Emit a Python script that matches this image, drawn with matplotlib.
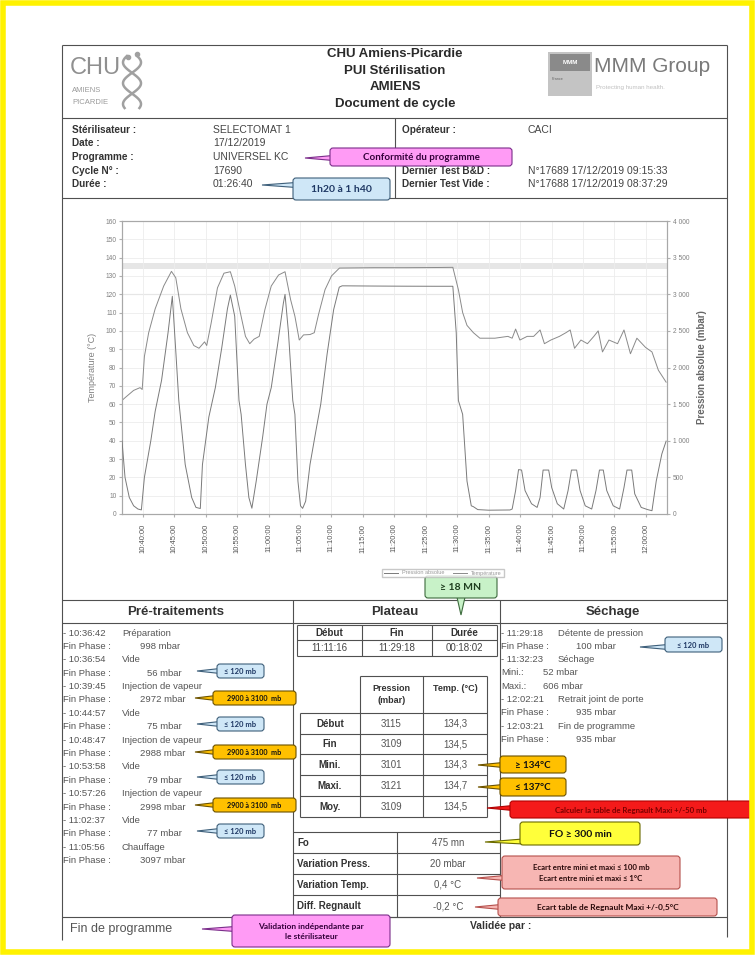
"""
Document de cycle du stérilisateur SELECTOMAT 1 (CHU Amiens-Picardie),
avec les annotations de contrôle.
"""
import numpy as np
import pandas as pd
import matplotlib
matplotlib.use("Agg")
import matplotlib.pyplot as plt
import matplotlib.dates as mdates
from matplotlib.patches import FancyBboxPatch, Polygon, Rectangle
from matplotlib.ticker import FuncFormatter, MultipleLocator

DOC_FONT = ["Liberation Sans", "DejaVu Sans"]
CALL_FONT = ["Lato", "DejaVu Sans"]
plt.rcParams["font.family"] = DOC_FONT

# region data
cycle_start = "2019-12-17 10:36:42"
cycle_end = "2019-12-17 12:03:21"

# temperature curve: minutes since start, °C
temp_minutes = [0.0, 0.48, 1.85, 2.87, 3.21, 3.56, 4.24, 5.27, 6.63, 7.86,
                8.55, 9.37, 10.40, 11.42, 12.24, 13.13, 13.47, 14.16, 15.18, 16.21,
                17.23, 17.92, 18.81, 19.63, 20.31, 21.00, 21.82, 22.71, 23.73, 24.89,
                25.92, 26.81, 27.49, 28.18, 28.86, 29.89, 30.57, 31.25, 32.28, 33.31,
                34.57, 40.0, 45.0, 50.0, 52.6, 53.48, 54.16, 54.85, 55.87, 56.90,
                59.29, 61.35, 62.03, 62.58, 63.26, 64.42, 65.45, 66.47, 67.16, 68.18,
                69.55, 70.58, 71.26, 71.95, 72.97, 74.00, 75.02, 75.71, 76.39, 77.42,
                78.79, 79.81, 80.84, 81.86, 83.23, 84.26, 85.28, 86.51]
temp_celsius = [62.0, 63.5, 67.5, 69.0, 68.0, 86.0, 99.0, 112.0, 124.5, 132.5,
                129.0, 112.0, 99.0, 92.0, 90.5, 94.0, 92.0, 104.0, 123.5, 131.5,
                132.3, 124.5, 110.0, 97.0, 93.0, 95.5, 97.0, 111.5, 124.5, 130.5,
                132.3, 117.0, 108.0, 95.0, 97.8, 98.0, 99.0, 109.0, 122.5, 130.0,
                134.3, 134.5, 134.5, 134.6, 134.7, 122.5, 110.0, 103.0, 99.0, 96.0,
                96.0, 97.0, 96.0, 101.0, 95.0, 97.0, 97.0, 100.5, 93.0, 95.0,
                97.0, 99.0, 100.5, 90.5, 95.0, 93.0, 97.0, 100.0, 88.5, 95.0,
                93.0, 100.5, 87.5, 96.0, 91.0, 88.5, 78.5, 72.0]

# absolute pressure curve: minutes since start, mbar
pres_minutes = [0.0, 0.48, 1.16, 1.85, 2.53, 3.08, 3.56, 4.58, 5.27, 6.29,
                7.32, 8.00, 8.55, 9.03, 10.05, 11.08, 11.76, 12.45, 12.79, 13.81,
                14.84, 15.87, 16.76, 17.23, 17.92, 18.60, 18.94, 19.63, 20.17, 20.65,
                21.34, 22.36, 23.05, 23.73, 24.76, 25.65, 25.92, 26.47, 27.15, 27.49,
                27.97, 28.38, 28.72, 29.20, 29.89, 30.91, 31.60, 32.62, 33.65, 34.54,
                35.0, 40.0, 45.0, 50.0, 52.6, 53.14, 53.48, 54.16, 54.85, 55.53, 55.87,
                56.56, 58.27, 61.69, 62.03, 62.58, 63.05, 63.53, 64.08, 65.11, 66.00,
                66.47, 66.95, 67.84, 68.32, 69.21, 70.23, 70.92, 71.46, 72.28, 72.83,
                73.65, 74.68, 75.36, 75.91, 76.52, 77.07, 78.10, 79.12, 79.81, 80.29,
                81.04, 81.52, 82.55, 83.57, 84.26, 84.94, 85.83, 86.51]
pres_mbar = [998, 500, 225, 112, 68, 56, 500, 1000, 1400, 1825,
             2475, 2972, 2225, 1550, 675, 225, 90, 75, 675, 1325,
             1725, 2275, 2800, 2988, 2700, 1550, 1360, 675, 225, 79,
             450, 1050, 1500, 1725, 2325, 2875, 2998, 2475, 1550, 1360,
             450, 112, 77, 175, 675, 1175, 1500, 2190, 2790, 3097,
             3115, 3112, 3110, 3109, 3109, 2475, 1550, 1360, 450, 112, 100,
             60, 52, 55, 68, 320, 606, 600, 320, 140, 90,
             225, 600, 600, 360, 140, 68, 320, 600, 600, 320,
             112, 68, 320, 600, 600, 320, 112, 68, 360, 600,
             600, 275, 90, 60, 45, 450, 820, 995]

header_title = ["CHU Amiens-Picardie", "PUI Stérilisation", "AMIENS", "Document de cycle"]
info_left_labels = ["Stérilisateur :", "Date :", "Programme :", "Cycle N° :", "Durée :"]
info_left_values = ["SELECTOMAT 1", "17/12/2019", "UNIVERSEL KC", "17690", "01:26:40"]
info_right_labels = ["Opérateur :", "", "", "Dernier Test B&D :", "Dernier Test Vide :"]
info_right_values = ["CACI", "", "", "N°17689 17/12/2019 09:15:33", "N°17688 17/12/2019 08:37:29"]

pre_steps = [("10:36:42", "Préparation", 998), ("10:36:54", "Vide", 56),
             ("10:39:45", "Injection de vapeur", 2972), ("10:44:57", "Vide", 75),
             ("10:48:47", "Injection de vapeur", 2988), ("10:53:58", "Vide", 79),
             ("10:57:26", "Injection de vapeur", 2998), ("11:02:37", "Vide", 77),
             ("11:05:56", "Chauffage", 3097)]
sech_lines = [("- 11:29:18", "Détente de pression"), ("Fin Phase :", "100 mbar"),
              ("- 11:32:23", "Séchage"), ("Mini.:", "52 mbar"), ("Maxi.:", "606 mbar"),
              ("- 12:02:21", "Retrait joint de porte"), ("Fin Phase :", "935 mbar"),
              ("- 12:03:21", "Fin de programme"), ("Fin Phase :", "935 mbar")]

plateau_heads = ["Début", "Fin", "Durée"]
plateau_times = ["11:11:16", "11:29:18", "00:18:02"]
plateau_rows = ["Début", "Fin", "Mini.", "Maxi.", "Moy."]
plateau_pres = [3115, 3109, 3101, 3121, 3109]
plateau_temp = [134.3, 134.5, 134.3, 134.7, 134.5]
summary_labels = ["Fo", "Variation Press.", "Variation Temp.", "Diff. Regnault"]
summary_values = ["475 mn", "20 mbar", "0,4 °C", "-0,2 °C"]
# endregion

fig = plt.figure(figsize=(7.55, 9.55), dpi=100)
fig.patch.set_facecolor("white")

# page layer in pixel coordinates
doc = fig.add_axes([0, 0, 1, 1])
doc.set_zorder(-1)
doc.set_xlim(0, 755)
doc.set_ylim(955, 0)
doc.axis("off")

LINE = "#505050"


def hline(y, x0=62, x1=727, lw=0.8):
    doc.plot([x0, x1], [y, y], color=LINE, lw=lw, solid_capstyle="butt")


def vline(x, y0, y1, lw=0.8):
    doc.plot([x, x], [y0, y1], color=LINE, lw=lw, solid_capstyle="butt")


def txt(x, y, s, size=7, weight="normal", color="#3a3a3a", ha="left", family=DOC_FONT, **kw):
    doc.text(x, y, s, fontsize=size, fontweight=weight, color=color, ha=ha, va="center",
             family=family, **kw)


def callout(box, tip, text, fc, ec, tc, size=6, side="left", half=2.5, lw=0.8, spacing=1.2):
    """Office-like callout: rounded box with a wedge tail going to tip."""
    x0, y0, x1, y1 = box
    tx, ty = tip
    if side == "left":
        yc = min(max(ty, y0 + half + 1), y1 - half - 1)
        base = [(x0 + 3, yc - half), (x0 + 3, yc + half)]
    else:
        xc = min(max(tx, x0 + half + 5), x1 - half - 5)
        base = [(xc - half - 2, y1 - 3), (xc + half + 2, y1 - 3)]
    doc.add_patch(Polygon([tip] + base, closed=True, fc=fc, ec=ec, lw=lw, zorder=5))
    doc.add_patch(FancyBboxPatch((x0, y0), x1 - x0, y1 - y0,
                                 boxstyle="round,pad=0,rounding_size=3",
                                 fc=fc, ec=ec, lw=lw, zorder=6))
    doc.text((x0 + x1) / 2, (y0 + y1) / 2 + 0.5, text, fontsize=size, fontweight="bold",
             color=tc, ha="center", va="center", family=CALL_FONT, zorder=7,
             linespacing=spacing)


# yellow frame round the page
doc.add_patch(Rectangle((3, 3), 749, 949, fill=False, ec="#FFF200", lw=4, zorder=10))

# region frame of the document
hline(45)
vline(62, 45, 940)
vline(727, 45, 937)
hline(118)
vline(395, 118, 198)
hline(198)
hline(600)
hline(623)
vline(293, 600, 917)
vline(500, 600, 917)
hline(917)
# endregion

# region header
txt(70, 68, "CHU", size=17, color="#8f8f8f")
txt(72, 90, "AMIENS", size=5.5, color="#9a9a9a")
txt(72, 102, "PICARDIE", size=5.5, color="#9a9a9a")
s = np.linspace(0, 1, 80)
for ph in (0.0, np.pi):
    doc.plot(132 + 9 * np.sin(2 * np.pi * 1.25 * s + 0.6 + ph), 56 + 52 * s,
             color="#a0a0a0", lw=1.8)
doc.plot([137, 128], [54, 57], "o", color="#a0a0a0", ms=3)

for i, line in enumerate(header_title):
    txt(395, 54 + 16.5 * i, line, size=9.5, weight="bold", color="#2a2a2a", ha="center")

doc.add_patch(Rectangle((548, 52), 44, 44, fc="#c4c4c4", ec="none"))
doc.add_patch(Rectangle((550, 54), 40, 17, fc="#8a8a8a", ec="none"))
txt(570, 62.5, "MMM", size=4.5, weight="bold", color="white", ha="center")
txt(552, 79, "France", size=2.8, color="#666")
txt(594, 66, "MMM Group", size=15, color="#7a7a7a")
txt(596, 87, "Protecting human health.", size=4.5, color="#c0c0c0")
# endregion

# region cycle information
for i, (lab, val) in enumerate(zip(info_left_labels, info_left_values)):
    y = 130 + 13.5 * i
    txt(72, y, lab, size=7.2, weight="bold", color="#333")
    txt(213, y, val, size=7.5, color="#444")
for i, (lab, val) in enumerate(zip(info_right_labels, info_right_values)):
    y = 130 + 13.5 * i
    if lab:
        txt(402, y, lab, size=7.2, weight="bold", color="#333")
        txt(528, y, val, size=7.5, color="#444")
# endregion

# region chart
ax = fig.add_axes([122 / 755, 1 - 514 / 955, 545 / 755, 293 / 955])
ax2 = ax.twinx()
t0 = pd.Timestamp(cycle_start)
t_temp = (t0 + pd.to_timedelta(temp_minutes, unit="min")).to_numpy()
t_pres = (t0 + pd.to_timedelta(pres_minutes, unit="min")).to_numpy()

ax.axhspan(134, 137, color="#e6e6e6", lw=0, zorder=0)
ax.axhline(120, color="#cccccc", lw=0.8, zorder=0)
l_temp, = ax.plot(t_temp, temp_celsius, color="#8a8a8a", lw=0.7, zorder=3)
l_pres, = ax2.plot(t_pres, pres_mbar, color="#7a7a7a", lw=0.7, zorder=3)

ax.set_xlim(t0, pd.Timestamp(cycle_end))
ax.set_ylim(0, 160)
ax2.set_ylim(0, 4000)
ax.yaxis.set_major_locator(MultipleLocator(10))
ax2.yaxis.set_major_locator(MultipleLocator(500))
ax2.yaxis.set_major_formatter(FuncFormatter(lambda v, p: f"{int(v):,}".replace(",", " ")))
ax.xaxis.set_major_locator(mdates.MinuteLocator(byminute=range(0, 60, 5)))
ax.xaxis.set_major_formatter(mdates.DateFormatter("%H:%M:%S"))
ax.grid(True, color="#ececec", lw=0.6)
ax.set_axisbelow(True)
for a in (ax, ax2):
    for sp in a.spines.values():
        sp.set_color("#a8a8a8")
        sp.set_linewidth(0.8)
    a.tick_params(length=2, color="#b0b0b0", labelsize=4.8, labelcolor="#808080", pad=2)
ax.tick_params(axis="x", labelrotation=90, labelsize=5.5, labelcolor="#555", pad=5)
ax.set_ylabel("Température (°C)", fontsize=6.5, color="#808080", labelpad=6)
ax2.set_ylabel("Pression absolue (mbar)", fontsize=7, fontweight="bold", color="#666", labelpad=6)

fig.legend(handles=[l_pres, l_temp], labels=["Pression absolue", "Température"],
           loc="center", bbox_to_anchor=(443 / 755, 1 - 573 / 955), ncol=2, fontsize=4,
           frameon=True, fancybox=False, edgecolor="#bbbbbb", handlelength=2.5,
           columnspacing=1.5, borderpad=0.35, labelcolor="#999")
# endregion

# region Pré-traitements
txt(176, 612, "Pré-traitements", size=9.5, weight="bold", color="#333", ha="center")
y = 633
for time, name, mbar in pre_steps:
    txt(63, y, f"- {time}", size=6.8, color="#555")
    txt(122, y, name, size=6.8, color="#555")
    y += 13.4
    txt(63, y, "Fin Phase :", size=6.8, color="#555")
    txt(140 if mbar >= 100 else 147, y, f"{mbar} mbar", size=6.8, color="#555")
    y += 13.4
# endregion

# region Plateau
txt(395, 612, "Plateau", size=9.5, weight="bold", color="#333", ha="center")
cols = [297, 362, 432, 497]
for x in cols:
    vline(x, 625, 656)
for yy in (625, 640, 656):
    hline(yy, 297, 497)
for i in range(3):
    cx = (cols[i] + cols[i + 1]) / 2
    txt(cx, 632.5, plateau_heads[i], size=7, weight="bold", color="#333", ha="center")
    txt(cx, 648, plateau_times[i], size=7, color="#444", ha="center")

# pressure / temperature table
for x in (360, 423, 487):
    vline(x, 676, 817)
hline(676, 360, 487)
vline(300, 713, 817)
row_y = [713, 734, 754, 775, 796, 817]
for yy in row_y:
    hline(yy, 300, 487)
txt(391.5, 688, "Pression", size=6.5, weight="bold", color="#333", ha="center")
txt(391.5, 700, "(mbar)", size=6.5, weight="bold", color="#333", ha="center")
txt(455, 688, "Temp. (°C)", size=6.5, weight="bold", color="#333", ha="center")
for i, (lab, p, t) in enumerate(zip(plateau_rows, plateau_pres, plateau_temp)):
    yc = (row_y[i] + row_y[i + 1]) / 2
    txt(330, yc, lab, size=7, weight="bold", color="#333", ha="center")
    txt(391.5, yc, f"{p}", size=7, color="#555", ha="center")
    txt(455, yc, f"{t:.1f}".replace(".", ","), size=7, color="#555", ha="center")

# Fo / variations table
sum_y = [832, 853, 874, 895, 917]
for yy in sum_y:
    hline(yy, 293, 500)
vline(397, 832, 917)
for i, (lab, val) in enumerate(zip(summary_labels, summary_values)):
    yc = (sum_y[i] + sum_y[i + 1]) / 2
    txt(297, yc, lab, size=7, weight="bold", color="#333")
    txt(448, yc, val, size=7, color="#555", ha="center")
# endregion

# region Séchage
txt(613, 612, "Séchage", size=9.5, weight="bold", color="#333", ha="center")
y = 633
for left, right in sech_lines:
    txt(501, y, left, size=6.8, color="#555")
    x2 = 558 if left.startswith("-") else (576 if left.startswith("Fin") else 543)
    txt(x2, y, right, size=6.8, color="#555")
    y += 13.3
# endregion

# region footer
txt(70, 929, "Fin de programme", size=9, color="#555")
txt(470, 926, "Validée par :", size=7.5, weight="bold", color="#333")
# endregion

# region annotations
BLUE = ("#CFE7F7", "#3E5F7A", "#1F3864")
GOLD = ("#FFC000", "#6B5200", "#111111")
PINK = ("#F7B6B3", "#B5504C", "#2A0A0A")
MAGENTA = ("#FF9BF5", "#7A2E8A", "#33003A")

callout((330, 148, 512, 166), (305, 158), "Conformité du programme", *MAGENTA, size=7)
callout((293, 178, 390, 200), (262, 185), "1h20 à 1 h40", *BLUE, size=7.5)
callout((425, 576, 497, 598), (461, 615), "≥ 18 MN", "#C8F2C8", "#3D6B3D", "#1E3D1E",
        size=7.5, side="bottom")

for yc in (671, 724, 777, 831):
    callout((217, yc - 7, 264, yc + 7), (197, yc), "≤ 120 mb", *BLUE, size=5.5)
for yc in (698, 752, 805):
    callout((213, yc - 7, 296, yc + 7), (195, yc), "2900 à 3100  mb", *GOLD, size=5.2)
callout((665, 637, 722, 652), (640, 647), "≤ 120 mb", *BLUE, size=5.5)

callout((500, 756, 566, 773), (478, 765), "≥ 134°C", *GOLD, size=7)
callout((500, 778, 566, 796), (478, 787), "≤ 137°C", *GOLD, size=7)
callout((510, 801, 752, 818), (487, 808), "Calculer la table de Regnault Maxi +/-50 mb",
        "#F41A1A", "#B00000", "#7A0000", size=5.6)
callout((520, 822, 640, 845), (485, 842), "FO ≥ 300 min", "#FFFF3A", "#6B6B00", "#111111",
        size=7.5)
callout((502, 856, 680, 889), (477, 878),
        "Ecart entre mini et maxi ≤ 100 mb\nEcart entre mini et maxi ≤ 1°C", *PINK,
        size=5.6, spacing=1.6)
callout((498, 898, 717, 916), (475, 907), "Ecart table de Regnault Maxi +/-0,5°C", *PINK,
        size=6)
callout((232, 915, 390, 947), (202, 929), "Validation indépendante par\nle stérilisateur",
        *MAGENTA, size=6, spacing=1.5)
# endregion

fig.savefig("out.png", dpi=100)
